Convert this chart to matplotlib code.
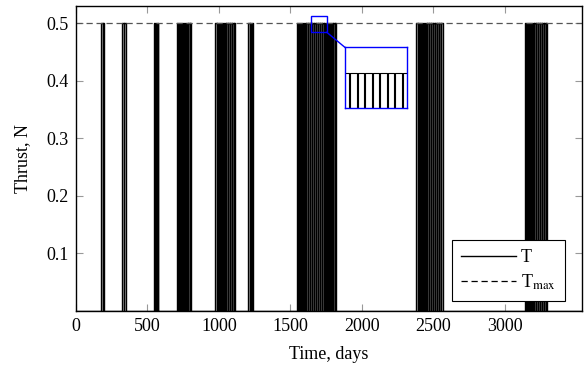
import matplotlib.pyplot as plt
import numpy as np

# thrust arcs (days)
arc_start = [175, 322, 545, 706, 972, 1203, 1545, 2378, 3140]
arc_end = [196, 350, 573, 804, 1112, 1238, 1818, 2566, 3294]
pulse_period = 13.5  # days
pulse_on = 11.5      # days on in each pulse
t_level = 0.5        # N
t_max = 0.5          # N
t_final = 3540

# zoom window and where the inset sits
zoom_x = (1643, 1755)
zoom_y = (0.484, 0.512)
inset_box = (1881, 0.352, 434, 0.106)


def thrust_profile():
    t = [0.0]
    T = [0.0]
    for s, e in zip(arc_start, arc_end):
        for p0 in np.arange(s, e, pulse_period):
            p1 = min(p0 + pulse_on, e)
            t += [p0, p0, p1, p1]
            T += [0.0, t_level, t_level, 0.0]
    t.append(t_final)
    T.append(0.0)
    return np.array(t), np.array(T)


def main():
    plt.rcParams["font.family"] = ["Liberation Serif", "DejaVu Serif"]
    plt.rcParams["mathtext.fontset"] = "stix"
    plt.rcParams["font.size"] = 13

    t, T = thrust_profile()

    fig = plt.figure(figsize=(5.84, 3.65), dpi=100)
    ax = fig.add_axes([0.130, 0.148, 0.8666, 0.836])

    ax.plot(t, T, color="black", lw=1.0, label="T")
    ax.axhline(t_max, color="#555555", lw=0.9, ls=(0, (5, 3)))
    ax.plot([], [], color="black", lw=0.9, ls=(0, (5, 3)), label=r"T$_{\rm max}$")

    ax.set_xlim(0, t_final)
    ax.set_ylim(0, 0.53)
    ax.set_xticks([0, 500, 1000, 1500, 2000, 2500, 3000])
    ax.set_yticks([0.1, 0.2, 0.3, 0.4, 0.5])
    ax.tick_params(direction="in", top=True, right=True, length=5,
                   color="#999999", width=0.8, labelsize=13, pad=5)
    ax.set_xlabel("Time, days", fontsize=13, labelpad=8)
    ax.set_ylabel("Thrust, N", fontsize=13, labelpad=11)
    for sp in ax.spines.values():
        sp.set_linewidth(1.0)

    leg = ax.legend(loc="lower right", bbox_to_anchor=(0.966, 0.033),
                    borderaxespad=0, fancybox=False, edgecolor="black",
                    framealpha=1, fontsize=13, handlelength=3.0,
                    handletextpad=0.3, borderpad=0.5, labelspacing=0.35)
    leg.get_frame().set_linewidth(0.8)

    # zoomed inset
    ins = ax.inset_axes(list(inset_box), transform=ax.transData)
    ins.plot(t, T, color="black", lw=0.8)
    ins.set_xlim(*zoom_x)
    ins.set_ylim(*zoom_y)
    ins.set_xticks([])
    ins.set_yticks([])
    for sp in ins.spines.values():
        sp.set_color("#0000ff")
        sp.set_linewidth(1.0)

    ax.add_patch(plt.Rectangle((zoom_x[0], zoom_y[0]), zoom_x[1] - zoom_x[0],
                               zoom_y[1] - zoom_y[0], fill=False,
                               edgecolor="#0000ff", lw=1.0, zorder=5))
    ax.plot([zoom_x[1], inset_box[0]], [zoom_y[0], inset_box[1] + inset_box[3]],
            color="#0000ff", lw=1.0, zorder=5)

    fig.savefig("out.png", dpi=100)
    plt.close(fig)


if __name__ == "__main__":
    main()
